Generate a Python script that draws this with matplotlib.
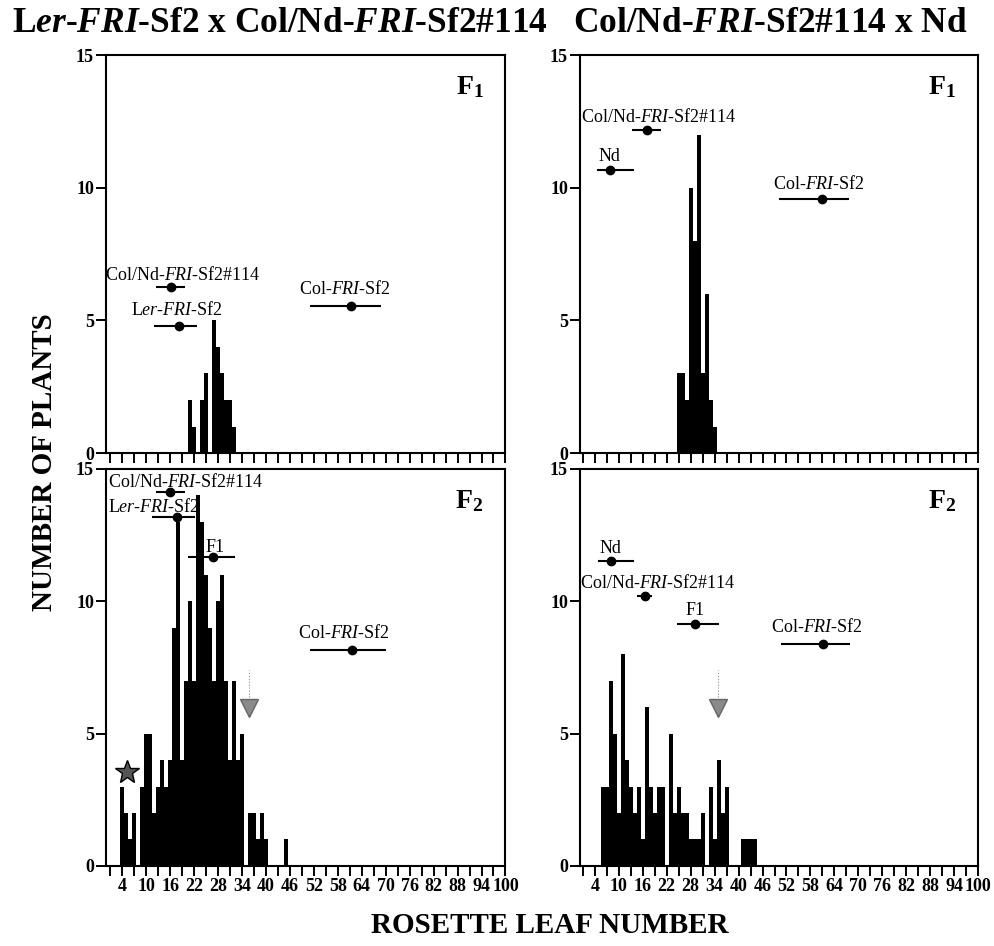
import numpy as np
import matplotlib
matplotlib.use('Agg')
import matplotlib.pyplot as plt

plt.rcParams['font.family'] = ['Liberation Serif', 'DejaVu Serif']
plt.rcParams['mathtext.fontset'] = 'custom'
plt.rcParams['mathtext.rm'] = 'Liberation Serif'
plt.rcParams['mathtext.it'] = 'Liberation Serif:italic'
plt.rcParams['mathtext.bf'] = 'Liberation Serif:bold'
plt.rcParams['mathtext.bfit'] = 'Liberation Serif:italic:bold'

# --- histogram data (rosette leaf number -> number of plants) ---

# Ler-FRI-Sf2 x Col/Nd-FRI-Sf2#114, F1
ul_leaves = np.arange(21, 33)
ul_counts = [2, 1, 0, 2, 3, 0, 5, 4, 3, 2, 2, 1]

# Col/Nd-FRI-Sf2#114 x Nd, F1
ur_leaves = np.arange(25, 35)
ur_counts = [3, 3, 2, 10, 8, 12, 3, 6, 2, 1]

# Ler-FRI-Sf2 x Col/Nd-FRI-Sf2#114, F2
ll_leaves = np.arange(4, 46)
ll_counts = [3, 2, 1, 2, 0, 3, 5, 5, 2, 3, 4, 3, 4, 9, 13, 4, 7, 10, 7, 14,
             13, 11, 9, 7, 10, 11, 7, 4, 7, 4, 5, 0, 2, 2, 1, 2, 1, 0, 0, 0,
             0, 1]

# Col/Nd-FRI-Sf2#114 x Nd, F2
lr_leaves = np.arange(6, 45)
lr_counts = [3, 3, 7, 5, 2, 8, 4, 3, 2, 3, 1, 6, 3, 2, 3, 3, 0, 5, 2, 3,
             2, 2, 1, 1, 1, 2, 0, 3, 1, 4, 2, 3, 0, 0, 0, 1, 1, 1, 1]

# --- parental / F1 means with ranges ---
lab_colnd = r'Col/Nd-$\mathit{FRI}$-Sf2#114'
lab_ler = r'L$\mathit{er}$-$\mathit{FRI}$-Sf2'
lab_col = r'Col-$\mathit{FRI}$-Sf2'
lab_nd = 'Nd'
lab_f1 = 'F1'

ul_names = [lab_colnd, lab_ler, lab_col]
ul_mean = [16.1, 18.3, 61.3]
ul_low = [12.3, 11.8, 51.0]
ul_high = [19.7, 22.8, 68.8]
ul_y = [6.24, 4.78, 5.53]

ur_names = [lab_colnd, lab_nd, lab_col]
ur_mean = [17.1, 7.75, 60.9]
ur_low = [13.4, 4.6, 50.25]
ur_high = [20.6, 13.75, 67.6]
ur_y = [12.17, 10.68, 9.58]

ll_names = [lab_colnd, lab_ler, lab_f1, lab_col]
ll_mean = [16.0, 17.75, 26.75, 61.5]
ll_low = [12.3, 11.4, 20.5, 51.1]
ll_high = [19.7, 22.1, 32.25, 70.0]
ll_y = [14.12, 13.18, 11.67, 8.15]

lr_names = [lab_nd, lab_colnd, lab_f1, lab_col]
lr_mean = [8.0, 16.5, 29.0, 61.2]
lr_low = [4.8, 14.6, 24.6, 50.7]
lr_high = [13.8, 18.4, 35.0, 68.0]
lr_y = [11.52, 10.19, 9.16, 8.37]

# label placement (data coords) for each panel
ul_tx = [19.25, 17.6, 59.8]
ul_ty = [6.72, 5.39, 6.2]
ur_tx = [20.1, 7.75, 60.25]
ur_ty = [12.68, 11.16, 10.15]
ll_tx = [19.8, 11.8, 27.1, 59.5]
ll_ty = [14.5, 13.58, 12.03, 8.8]
lr_tx = [7.9, 19.75, 29.0, 59.7]
lr_ty = [12.0, 10.68, 9.66, 9.03]

xtick_major = np.arange(4, 101, 6)
xtick_all = np.arange(1, 101, 3)

fig = plt.figure(figsize=(9.94, 9.46), dpi=100)

ax_ul = fig.add_axes([0.1071, 0.5211, 0.4014, 0.4207])
ax_ur = fig.add_axes([0.5840, 0.5211, 0.4000, 0.4207])
ax_ll = fig.add_axes([0.1071, 0.0846, 0.4014, 0.4197])
ax_lr = fig.add_axes([0.5840, 0.0846, 0.4000, 0.4197])


def draw_panel(ax, leaves, counts, names, mean, low, high, ymark, tx, ty,
               gen, xmin, show_xlabels):
    ax.bar(leaves, counts, width=1.0, color='black', linewidth=0)
    for i in range(len(names)):
        ax.errorbar(mean[i], ymark[i],
                    xerr=[[mean[i] - low[i]], [high[i] - mean[i]]],
                    fmt='o', color='black', markersize=6, elinewidth=1.5,
                    capsize=0)
        ax.text(tx[i], ty[i], names[i], ha='center', va='center',
                fontsize=13)
    ax.text(0.91, 0.92, gen, transform=ax.transAxes, ha='center',
            va='center', fontsize=20, fontweight='bold')
    ax.set_xlim(xmin, 100)
    ax.set_ylim(0, 15)
    ax.set_xticks(xtick_all)
    ax.set_xticklabels([str(v) if v in xtick_major else '' for v in xtick_all])
    if not show_xlabels:
        ax.tick_params(axis='x', labelbottom=False)
    ax.set_yticks([0, 5, 10, 15])
    ax.tick_params(direction='out', length=7, width=1.4, labelsize=13,
                   pad=2)
    for lbl in ax.get_xticklabels() + ax.get_yticklabels():
        lbl.set_fontweight('bold')
    for sp in ax.spines.values():
        sp.set_linewidth(1.5)


draw_panel(ax_ul, ul_leaves, ul_counts, ul_names, ul_mean, ul_low, ul_high,
           ul_y, ul_tx, ul_ty, r'F$_\mathbf{1}$', 0, False)
draw_panel(ax_ur, ur_leaves, ur_counts, ur_names, ur_mean, ur_low, ur_high,
           ur_y, ur_tx, ur_ty, r'F$_\mathbf{1}$', 0.4, False)
draw_panel(ax_ll, ll_leaves, ll_counts, ll_names, ll_mean, ll_low, ll_high,
           ll_y, ll_tx, ll_ty, r'F$_\mathbf{2}$', 0, True)
draw_panel(ax_lr, lr_leaves, lr_counts, lr_names, lr_mean, lr_low, lr_high,
           lr_y, lr_tx, lr_ty, r'F$_\mathbf{2}$', 0.4, True)

# star and grey arrows in F2 panels
ax_ll.plot(5.25, 3.56, marker='*', markersize=18, color='#555555',
           markeredgecolor='black', markeredgewidth=1.0)
for ax, xa in [(ax_ll, 35.8), (ax_lr, 34.9)]:
    ax.plot([xa, xa], [6.4, 7.4], color='#888888', linestyle=':',
            linewidth=0.8)
    ax.plot(xa, 5.95, marker='v', markersize=13, color='#8a8a8a',
            markeredgecolor='#666666')

# titles and axis labels
fig.text(12 / 994, 1 - 23 / 946,
         r'L$\mathbfit{er}$-$\mathbfit{FRI}$-Sf2 x Col/Nd-$\mathbfit{FRI}$-Sf2#114',
         ha='left', va='center', fontsize=25.5, fontweight='bold')
fig.text(573 / 994, 1 - 23 / 946,
         r'Col/Nd-$\mathbfit{FRI}$-Sf2#114 x Nd',
         ha='left', va='center', fontsize=25.5, fontweight='bold')
fig.text(45 / 994, 1 - 462 / 946, 'NUMBER OF PLANTS', rotation=90,
         ha='center', va='center', fontsize=21, fontweight='bold')
fig.text(550 / 994, 1 - 925 / 946, 'ROSETTE LEAF NUMBER', ha='center',
         va='center', fontsize=21, fontweight='bold')

fig.savefig('out.png', dpi=100)
